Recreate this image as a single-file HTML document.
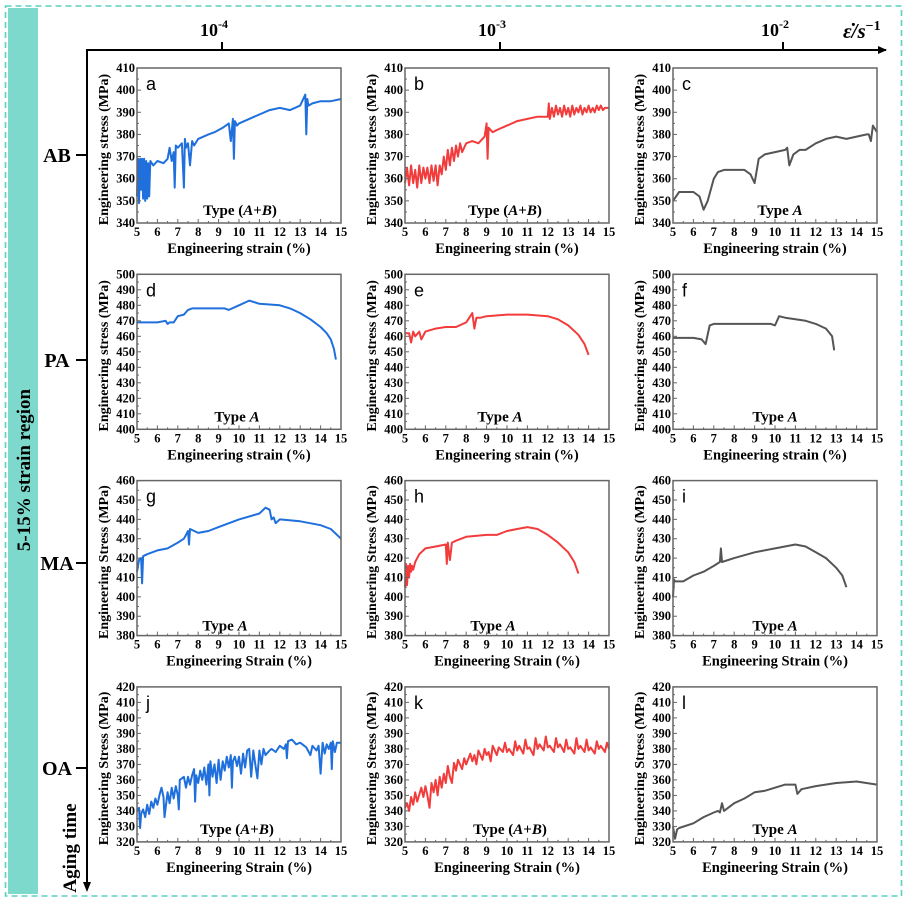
<!DOCTYPE html>
<html><head><meta charset="utf-8"><style>
body{margin:0;background:#fff}
svg{display:block;font-family:"Liberation Serif",serif}
</style></head><body>
<svg id="fig" width="906" height="902" viewBox="0 0 906 902" xmlns="http://www.w3.org/2000/svg">
<rect x="5.5" y="6" width="896" height="890" fill="none" stroke="#5ccfbf" stroke-width="1.6" stroke-dasharray="6,4"/>
<rect x="8" y="8" width="30" height="886" fill="#7dd9cc"/>
<text transform="translate(30,470) rotate(-90)" text-anchor="middle" font-size="19" font-weight="bold">5-15% strain  region</text>
<g stroke="#000" stroke-width="2" fill="none">
<line x1="87" y1="50" x2="87" y2="884"/>
<line x1="86" y1="50" x2="886" y2="50"/>
</g>
<polygon points="887,50 878,46 878,54" fill="#000"/>
<polygon points="87,892 83,882 91,882" fill="#000"/>
<g id="outer" font-weight="bold"></g>
<g id="panels"></g>
</svg>
<script>
const rateLabels=["-4","-3","-2"];
const rateX=[222,500,783];
const rowNames=["AB","PA","MA","OA"];
const rowY=[155,360,563,768];
const colors=["#1f6fdc","#f23c3c","#555555"];
const yMin=[340,400,380,320];
const yMax=[410,500,460,420];
const letters=["a","b","c","d","e","f","g","h","i","j","k","l"];
const xa=[5,5.05,5.1,5.15,5.2,5.25,5.3,5.35,5.4,5.45,5.5,5.55,5.6,5.65,5.8,6,6.3,6.5,6.6,6.7,6.8,6.85,6.9,7,7.2,7.3,7.35,7.4,7.5,7.6,7.7,7.8,8,8.5,8.8,9.2,9.5,9.6,9.7,9.75,9.8,9.9,10,10.5,11,11.5,12,12.5,13,13.25,13.3,13.35,13.4,13.6,14,14.5,15];
const ya=[352,369,349,369,355,369,351,369,350,368,351,367,352,368,366,368,367,369,374,368,372,356,375,374,376,356,378,374,376,366,377,375,378,380,381,383,385,377,387,369,386,384,385,387,389,391,392,391,393,398,380,396,393,394,395,395,396];
const xb=[5,5.1,5.2,5.3,5.4,5.5,5.6,5.7,5.8,5.9,6,6.1,6.2,6.3,6.4,6.5,6.6,6.7,6.8,6.9,7,7.1,7.2,7.3,7.4,7.5,7.6,7.7,7.8,8,8.3,8.6,8.9,9,9.05,9.1,9.3,9.5,10,10.5,11,11.5,12,12.05,12.1,12.2,12.3,12.4,12.5,12.6,12.7,12.8,12.9,13,13.1,13.2,13.3,13.4,13.5,13.6,13.7,13.8,13.9,14,14.1,14.2,14.3,14.4,14.5,14.6,14.7,14.8,15];
const yb=[358,365,357,366,358,364,356,366,358,365,360,365,358,366,359,366,357,366,362,370,364,373,366,374,368,375,370,376,372,376,377,376,379,385,369,383,381,382,384,386,387,388,388,394,387,392,388,393,389,392,388,393,389,392,388,393,389,392,390,393,389,392,390,393,390,392,390,393,391,393,391,392,392];
const xc=[5,5.3,5.7,6,6.3,6.5,6.7,7,7.2,7.5,8,8.5,8.8,9,9.2,9.5,10,10.5,10.6,10.7,10.9,11.2,11.5,12,12.5,13,13.5,14,14.5,14.6,14.7,14.8,15];
const yc=[350,354,354,354,352,346,350,360,363,364,364,364,362,358,369,371,372,373,374,366,371,373,373,376,378,379,378,379,380,380,377,384,381];
const xd=[5,6,6.4,6.5,6.6,6.8,7,7.3,7.5,7.7,8,9,9.3,9.5,10,10.5,11,12,12.5,13,13.5,14,14.3,14.5,14.65,14.75];
const yd=[469,469,470,468,469,469,473,474,477,478,478,478,478,477,480,483,481,480,478,475,471,466,462,458,452,445];
const xe=[5,5.2,5.3,5.4,5.5,5.7,5.8,6,6.5,7,7.5,8,8.2,8.3,8.4,8.5,8.7,9,10,11,12,12.5,13,13.5,13.8,14];
const ye=[462,462,456,463,460,463,458,463,465,466,466,469,473,475,465,472,472,473,474,474,473,471,467,461,455,448];
const xf=[5,6,6.4,6.6,6.8,7,8,9,9.8,10,10.2,10.5,11,11.5,12,12.5,12.8,12.9];
const yf=[459,459,458,455,467,468,468,468,468,467,473,472,471,470,468,465,460,451];
const xg=[5,5.1,5.2,5.25,5.3,5.5,6,6.5,7,7.3,7.4,7.5,7.55,7.6,8,8.5,9,10,11,11.3,11.5,11.6,11.7,11.8,12,13,14,14.5,15];
const yg=[413,419,420,407,421,422,424,425,428,430,432,434,427,435,433,434,436,440,443,446,445,440,441,438,440,439,437,435,430];
const xh=[5,5.05,5.1,5.15,5.2,5.25,5.3,5.35,5.4,5.5,5.7,6,6.5,7,7.05,7.1,7.2,7.3,7.5,8,9,9.5,10,10.5,11,11.5,12,12.5,13,13.3,13.5];
const yh=[405,417,406,416,410,417,413,416,414,418,422,425,426,427,417,428,419,428,429,431,432,432,434,435,436,435,432,428,423,418,412];
const xi=[5,5.05,5.1,5.5,6,6.5,7,7.3,7.35,7.4,8,9,10,11,11.5,12,12.5,13,13.3,13.5];
const yi=[400,409,408,408,411,413,416,418,425,418,420,423,425,427,426,423,420,415,411,405];
const xj=[5,5.1,5.15,5.2,5.3,5.4,5.5,5.6,5.7,5.8,5.9,6,6.1,6.2,6.3,6.35,6.5,6.6,6.7,6.8,6.9,7,7.05,7.1,7.3,7.4,7.5,7.6,7.7,7.8,7.85,7.9,8,8.1,8.2,8.3,8.4,8.5,8.55,8.6,8.7,8.8,8.9,9,9.1,9.2,9.3,9.4,9.5,9.6,9.65,9.7,9.8,9.9,10,10.1,10.2,10.3,10.4,10.5,10.6,10.7,10.8,10.9,11,11.1,11.2,11.3,11.5,11.6,11.8,12,12.2,12.3,12.35,12.4,12.6,12.8,13,13.2,13.3,13.5,13.6,13.8,13.9,14,14.1,14.2,14.3,14.4,14.5,14.55,14.6,14.7,14.8,15];
const yj=[340,342,329,338,341,336,344,338,346,342,348,344,350,355,349,336,352,345,355,348,356,350,341,360,362,355,362,357,363,367,346,363,358,366,360,368,357,370,350,372,362,370,358,373,360,372,366,375,368,376,355,372,375,369,375,364,377,368,379,380,362,379,370,361,379,370,380,376,379,380,378,382,380,383,374,385,386,383,384,382,381,376,382,379,382,364,384,377,383,380,384,367,385,378,384,384];
const xk=[5,5.1,5.2,5.3,5.4,5.5,5.6,5.8,5.9,6,6.1,6.2,6.3,6.4,6.5,6.6,6.7,6.8,6.9,7,7.1,7.2,7.3,7.4,7.5,7.6,7.8,7.9,8,8.2,8.3,8.4,8.5,8.6,8.8,8.9,9,9.1,9.2,9.3,9.5,9.6,9.8,9.9,10,10.1,10.3,10.4,10.5,10.6,10.8,10.9,11,11.1,11.3,11.4,11.5,11.6,11.8,11.9,12,12.1,12.3,12.4,12.5,12.6,12.8,12.9,13,13.1,13.3,13.4,13.5,13.6,13.8,13.9,14,14.1,14.3,14.4,14.5,14.6,14.8,14.9,15];
const yk=[342,345,340,349,344,352,346,355,349,356,350,342,358,352,360,350,362,355,364,358,369,362,358,371,366,373,367,374,370,377,372,376,370,379,373,380,376,378,372,382,376,381,378,384,378,380,376,385,379,382,377,386,380,381,376,387,380,383,379,388,381,382,378,387,381,383,378,386,380,381,377,387,380,382,378,386,379,381,377,385,380,382,378,384,380];
const xl=[5,5.05,5.1,5.2,5.3,6,6.5,7,7.2,7.3,7.4,7.5,8,8.5,9,9.5,10,10.5,11,11.1,11.3,12,13,14,15];
const yl=[330,326,322,328,329,332,336,339,340,339,345,340,345,348,352,353,355,357,357,351,354,356,358,359,357];
const seriesX=[xa,xb,xc,xd,xe,xf,xg,xh,xi,xj,xk,xl];
const seriesY=[ya,yb,yc,yd,ye,yf,yg,yh,yi,yj,yk,yl];
const typeLabels=["A+B","A+B","A","A","A","A","A","A","A","A+B","A+B","A"];
const typeX=[240,505,780,237,500,775,225,493,775,237,510,775];
const typeYoff=[147,147,147,147,147,147,150,150,150,147,147,147];

const NS="http://www.w3.org/2000/svg";
function mk(tag,attrs,parent){const e=document.createElementNS(NS,tag);for(const k in attrs)e.setAttribute(k,attrs[k]);parent.appendChild(e);return e;}
const outer=document.getElementById('outer');
rateLabels.forEach((l,i)=>{
  const t=mk('text',{x:rateX[i]-8,y:36,'font-size':18,'text-anchor':'middle'},outer);
  
  
  t.textContent='10';
  const s=mk('tspan',{dy:-8,'font-size':12},t);s.textContent=l;
  const tk=mk('line',{x1:rateX[i],y1:42,x2:rateX[i],y2:50,stroke:'#000','stroke-width':2},outer);
  
  
});
const eps=mk('text',{x:843,y:38,'font-size':21,'font-style':'italic'},outer);


eps.textContent='ε̇/s';
const epss=mk('tspan',{dy:-8,'font-size':14,'font-style':'normal'},eps);epss.textContent='−1';
rowNames.forEach((n,i)=>{
  const t=mk('text',{x:57,y:rowY[i]+7,'font-size':20,'text-anchor':'middle'},outer);
  
  
  t.textContent=n;
  const tk=mk('line',{x1:76,y1:rowY[i],x2:87,y2:rowY[i],stroke:'#000','stroke-width':2},outer);
  
  
});
const at=mk('text',{transform:'translate(76,848) rotate(-90)','font-size':19,'text-anchor':'middle'},outer);


at.textContent='Aging time';

const panels=document.getElementById('panels');
const W=204,H=155;
for(let p=0;p<12;p++){
  const r=Math.floor(p/3),c=p%3;
  const L=137+268*c,T=68+206.3*r;
  const g=mk('g',{},panels);
  
  
  const sx=x=>L+(x-5)/10*W;
  const sy=y=>T+H-(y-yMin[r])/(yMax[r]-yMin[r])*H;
  const d=seriesX[p].map((x,i)=>(i?'L':'M')+sx(x).toFixed(1)+','+sy(seriesY[p][i]).toFixed(1)).join('');
  const path=mk('path',{d:d,fill:'none',stroke:colors[c],'stroke-width':2,'stroke-linejoin':'round'},g);
  
  
  const fr=mk('rect',{x:L,y:T,width:W,height:H,fill:'none',stroke:'#666','stroke-width':1.5},g);
  
  
  for(let v=5;v<=15;v+=0.5){
    const major=Number.isInteger(v);
    const tk=mk('line',{x1:sx(v),y1:T+H,x2:sx(v),y2:T+H-(major?4:2),stroke:'#666','stroke-width':1},g);
    
    
    if(major){
      const t=mk('text',{x:sx(v),y:T+H+13,'font-size':12.5,'font-weight':'bold','text-anchor':'middle'},g);
      
      
      t.textContent=v;
    }
  }
  for(let v=yMin[r];v<=yMax[r];v+=5){
    const major=(v%10===0);
    const tk=mk('line',{x1:L,y1:sy(v),x2:L+(major?4:2),y2:sy(v),stroke:'#666','stroke-width':1},g);
    
    
    if(major){
      const t=mk('text',{x:L-2,y:sy(v)+4,'font-size':12.5,'font-weight':'bold','text-anchor':'end'},g);
      
      
      t.textContent=v;
    }
  }
  const cap=r>=2;
  const xt=mk('text',{x:L+W/2,y:T+H+30,'font-size':14.5,'font-weight':'bold','text-anchor':'middle'},g);
  
  
  xt.textContent=cap?'Engineering Strain (%)':'Engineering strain (%)';
  const yt=mk('text',{transform:`translate(${L-29},${T+H/2+4}) rotate(-90)`,'font-size':14,'font-weight':'bold','text-anchor':'middle'},g);
  
  
  yt.textContent=cap?'Engineering Stress (MPa)':'Engineering stress (MPa)';
  const lt=mk('text',{x:L+9,y:T+22,'font-size':18,'font-family':'Liberation Sans, sans-serif'},g);
  
  
  lt.textContent=letters[p];
  const ty=mk('text',{x:typeX[p],y:T+typeYoff[p],'font-size':15,'font-weight':'bold','text-anchor':'middle'},g);
  
  
  if(typeLabels[p]==='A+B'){
    ty.appendChild(document.createTextNode('Type ('));
    const a=mk('tspan',{'font-style':'italic'},ty);a.textContent='A';
    ty.appendChild(document.createTextNode('+'));
    const b=mk('tspan',{'font-style':'italic'},ty);b.textContent='B';
    ty.appendChild(document.createTextNode(')'));
  } else {
    ty.appendChild(document.createTextNode('Type '));
    const a=mk('tspan',{'font-style':'italic'},ty);a.textContent='A';
  }
}
</script>
</body></html>
